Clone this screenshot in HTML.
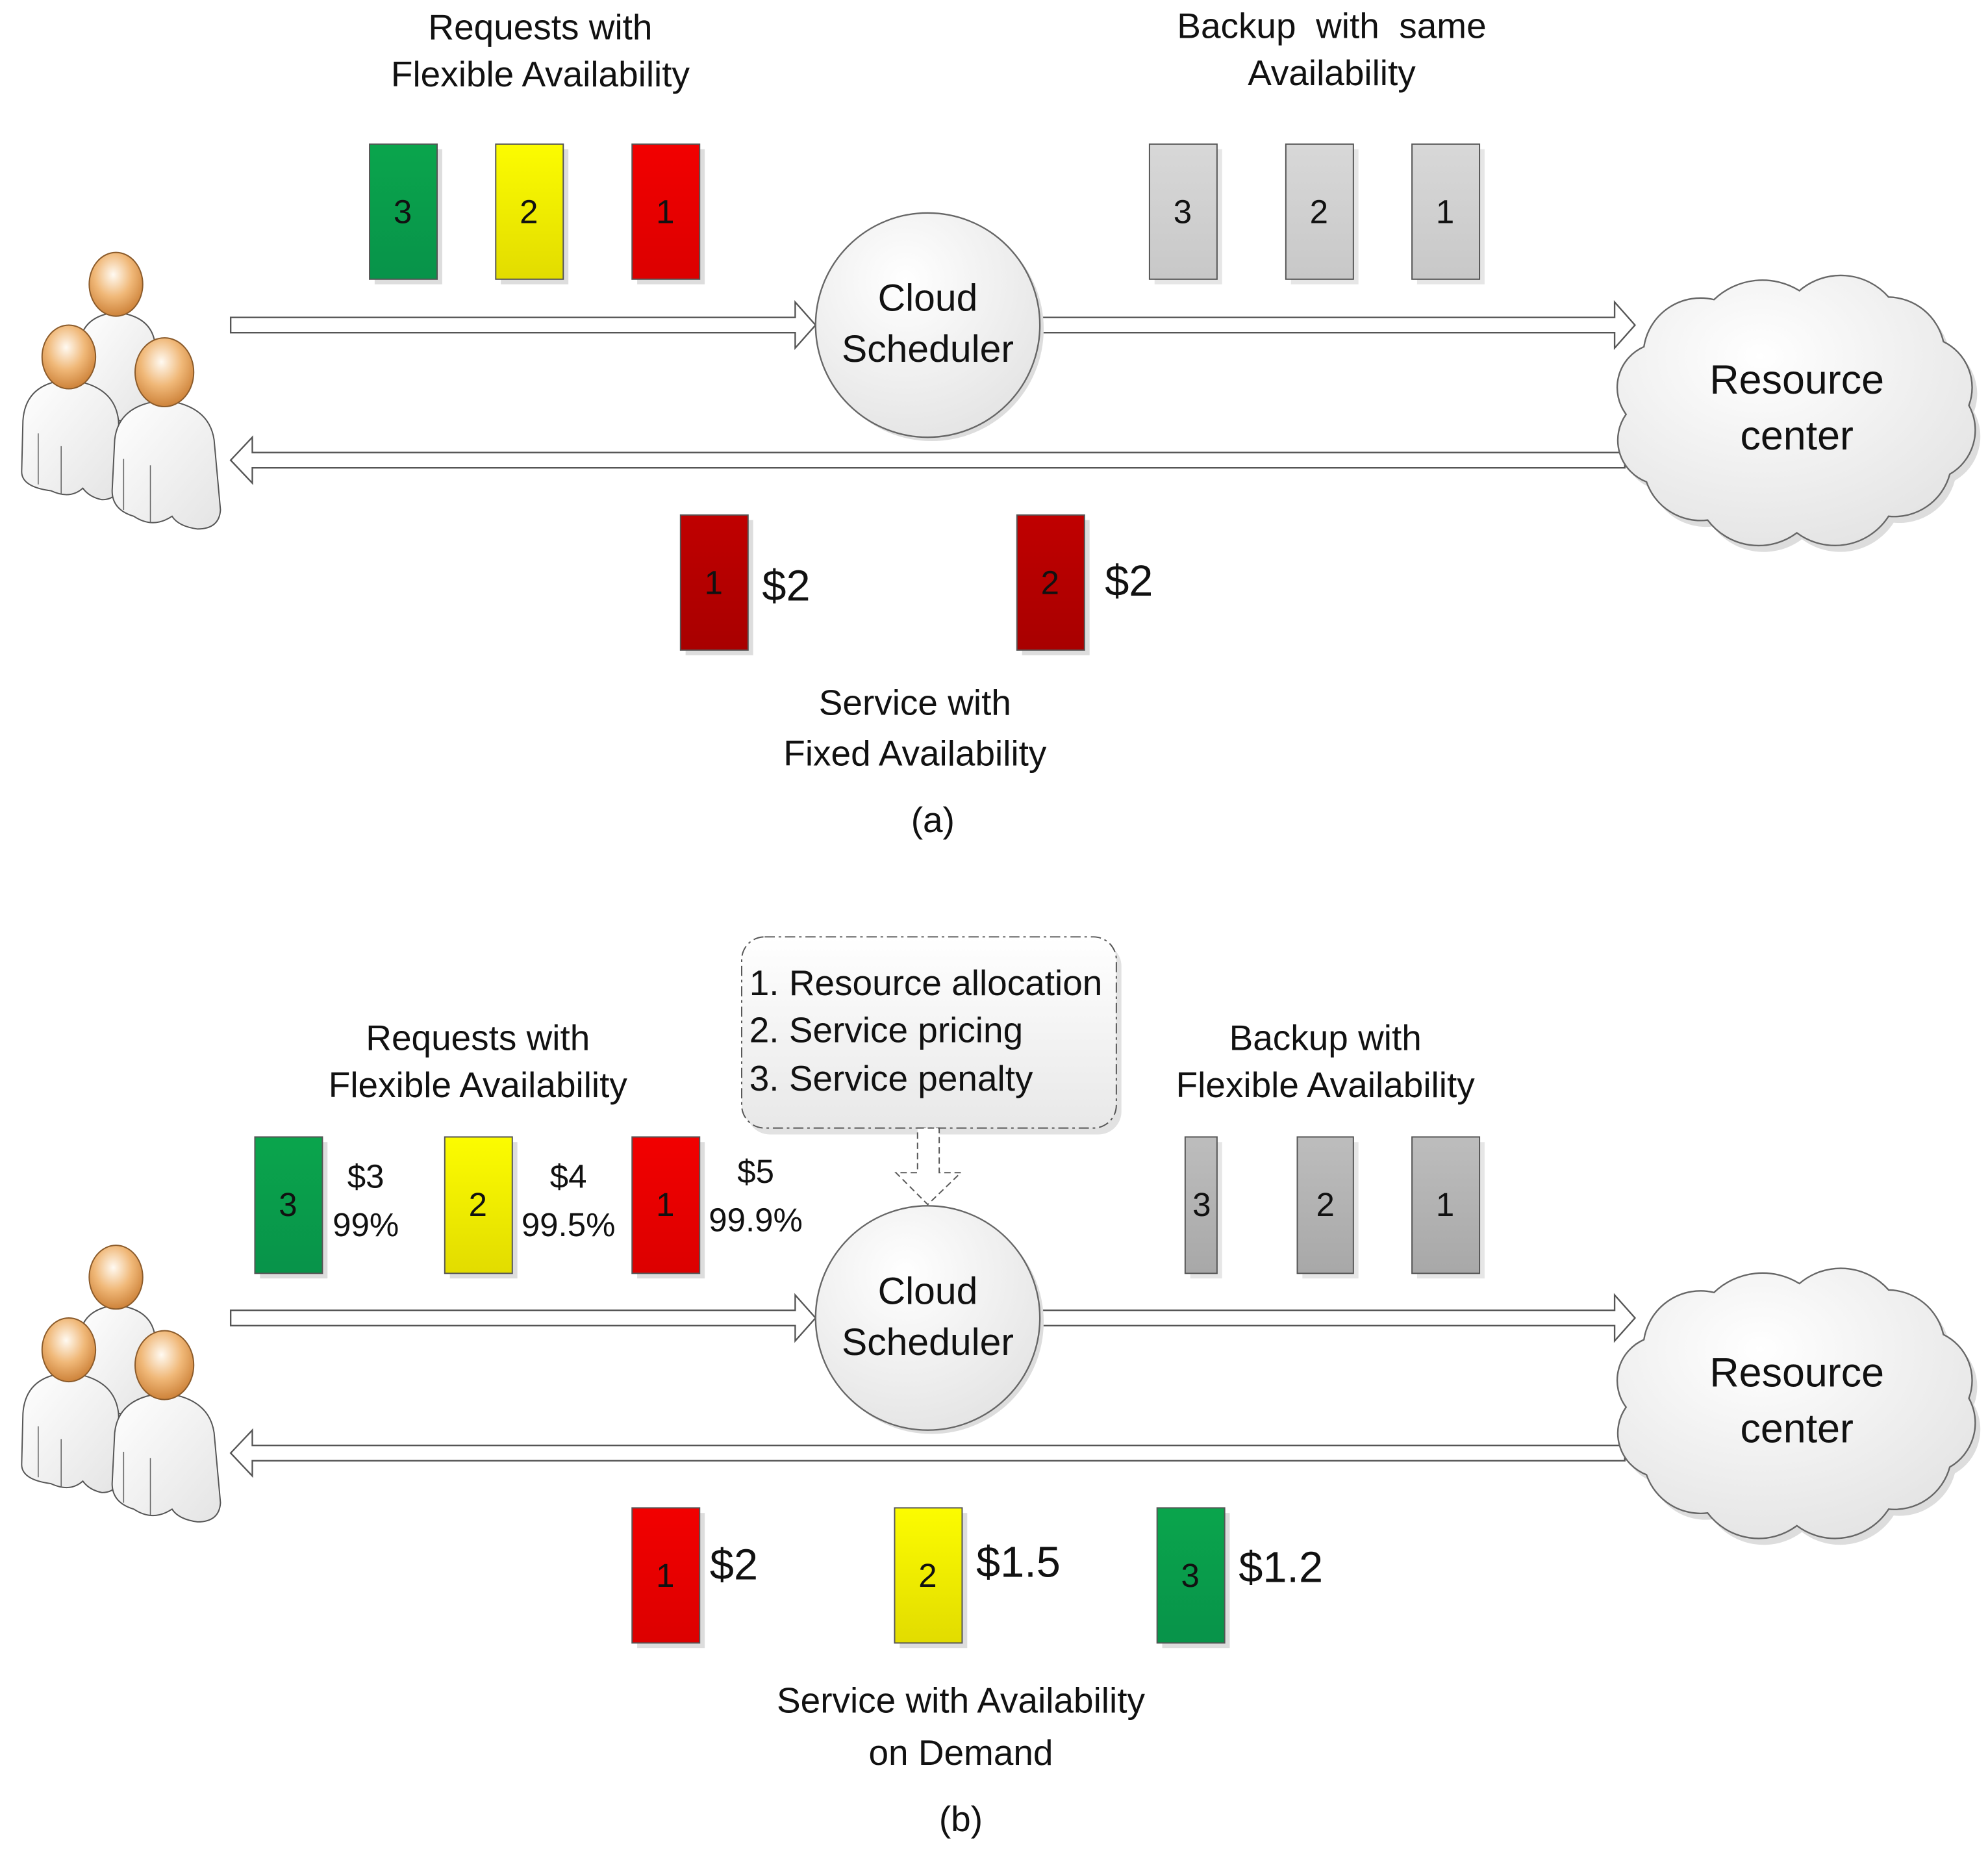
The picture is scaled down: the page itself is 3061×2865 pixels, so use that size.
<!DOCTYPE html>
<html><head><meta charset="utf-8"><style>
html,body{margin:0;padding:0;background:#fff;}
svg{display:block;}
text{font-family:"Liberation Sans",sans-serif;fill:#111;}
</style></head><body>
<svg width="3061" height="2865" viewBox="0 0 1560 1460" xmlns="http://www.w3.org/2000/svg">
<defs>
<radialGradient id="head" cx="0.45" cy="0.35" r="0.7">
<stop offset="0" stop-color="#fffaf2"/><stop offset="0.5" stop-color="#f0b878"/><stop offset="1" stop-color="#c87a30"/>
</radialGradient>
<linearGradient id="body" x1="0" y1="0" x2="1" y2="1"><stop offset="0" stop-color="#ffffff"/><stop offset="1" stop-color="#e4e4e4"/></linearGradient>
<radialGradient id="circ" cx="0.4" cy="0.3" r="0.8"><stop offset="0" stop-color="#ffffff"/><stop offset="1" stop-color="#e2e2e2"/></radialGradient>
<linearGradient id="grn" x1="0" y1="0" x2="0" y2="1"><stop offset="0" stop-color="#0aa54c"/><stop offset="1" stop-color="#08934a"/></linearGradient>
<linearGradient id="yel" x1="0" y1="0" x2="0" y2="1"><stop offset="0" stop-color="#fcfc00"/><stop offset="1" stop-color="#e2dc00"/></linearGradient>
<linearGradient id="red" x1="0" y1="0" x2="0" y2="1"><stop offset="0" stop-color="#f20000"/><stop offset="1" stop-color="#dc0000"/></linearGradient>
<linearGradient id="drd" x1="0" y1="0" x2="0" y2="1"><stop offset="0" stop-color="#c00000"/><stop offset="1" stop-color="#a80000"/></linearGradient>
<linearGradient id="gry" x1="0" y1="0" x2="0" y2="1"><stop offset="0" stop-color="#d8d8d8"/><stop offset="1" stop-color="#c8c8c8"/></linearGradient>
<linearGradient id="gry2" x1="0" y1="0" x2="0" y2="1"><stop offset="0" stop-color="#bdbdbd"/><stop offset="1" stop-color="#a8a8a8"/></linearGradient>
<linearGradient id="boxg" x1="0" y1="0" x2="0" y2="1"><stop offset="0" stop-color="#ffffff"/><stop offset="1" stop-color="#e8e8e8"/></linearGradient>
<g id="people">
 <path d="M62,330 L62,275 Q62,248 91,245 Q122,248 122,275 L122,330 Z" fill="url(#body)" stroke="#555" stroke-width="1"/>
 <ellipse cx="91" cy="223" rx="21" ry="25" fill="url(#head)" stroke="#8a5a2a" stroke-width="1"/>
 <path d="M17,370 L18,330 Q20,300 54,298 Q90,302 93,330 L95,375 Q94,392 80,392 Q70,390 65,383 Q55,392 40,385 Q17,382 17,370 Z" fill="url(#body)" stroke="#555" stroke-width="1"/>
 <line x1="30" y1="340" x2="30" y2="380" stroke="#666" stroke-width="0.8"/><line x1="48" y1="350" x2="48" y2="388" stroke="#666" stroke-width="0.8"/>
 <ellipse cx="54" cy="280" rx="21" ry="25" fill="url(#head)" stroke="#8a5a2a" stroke-width="1"/>
 <path d="M88,385 L90,345 Q93,317 129,314 Q164,318 168,345 L173,400 Q172,415 155,415 Q140,413 135,405 Q120,415 105,405 Q88,400 88,385 Z" fill="url(#body)" stroke="#555" stroke-width="1"/>
 <line x1="97" y1="360" x2="97" y2="400" stroke="#666" stroke-width="0.8"/><line x1="118" y1="365" x2="118" y2="410" stroke="#666" stroke-width="0.8"/>
 <ellipse cx="129" cy="292" rx="23" ry="27" fill="url(#head)" stroke="#8a5a2a" stroke-width="1"/>
</g>
<path id="cloud" d="M1290,272 A45,45 0 0 1 1345,235 A55,55 0 0 1 1412,228 A50,50 0 0 1 1482,233 A45,45 0 0 1 1525,268 A40,40 0 0 1 1545,318 A40,40 0 0 1 1530,372 A45,45 0 0 1 1482,405 A50,50 0 0 1 1410,418 A50,50 0 0 1 1340,408 A45,45 0 0 1 1292,378 A35,35 0 0 1 1276,325 A35,35 0 0 1 1290,272 Z"/>
<g id="arrows">
 <polygon points="181,249 624,249 624,237 640,255 624,273 624,261 181,261" fill="#fff" stroke="#555" stroke-width="1.2"/>
 <polygon points="817,249 1267,249 1267,237 1283,255 1267,273 1267,261 817,261" fill="#fff" stroke="#555" stroke-width="1.2"/>
 <polygon points="1275,355 198,355 198,343 181,361 198,379 198,367 1275,367" fill="#fff" stroke="#555" stroke-width="1.2"/>
</g>
<g id="sched">
 <circle cx="731" cy="258" r="88" fill="#ddd"/>
 <circle cx="728" cy="255" r="88" fill="url(#circ)" stroke="#666" stroke-width="1.2"/>
 <text x="728" y="234" font-size="30" text-anchor="middle" dominant-baseline="central">Cloud</text>
 <text x="728" y="274" font-size="30" text-anchor="middle" dominant-baseline="central">Scheduler</text>
 <use href="#cloud" transform="translate(4,5)" fill="#ddd"/>
 <use href="#cloud" fill="url(#circ)" stroke="#666" stroke-width="1.2"/>
 <text x="1410" y="298" font-size="32" text-anchor="middle" dominant-baseline="central">Resource</text>
 <text x="1410" y="342" font-size="32" text-anchor="middle" dominant-baseline="central">center</text>
</g>
</defs>

<!-- (a) -->
<use href="#people"/>
<use href="#arrows"/>
<use href="#sched"/>
<text x="424" y="21" font-size="28" text-anchor="middle" dominant-baseline="central">Requests with</text>
<text x="424" y="58" font-size="28" text-anchor="middle" dominant-baseline="central">Flexible Availability</text>
<text x="1045" y="20" font-size="28" text-anchor="middle" dominant-baseline="central" xml:space="preserve">Backup  with  same</text>
<text x="1045" y="57" font-size="28" text-anchor="middle" dominant-baseline="central">Availability</text>
<g stroke="#555" stroke-width="1">
<rect x="294" y="117" width="53" height="106" fill="#ddd" stroke="none"/>
<rect x="290" y="113" width="53" height="106" fill="url(#grn)"/>
<rect x="393" y="117" width="53" height="106" fill="#ddd" stroke="none"/>
<rect x="389" y="113" width="53" height="106" fill="url(#yel)"/>
<rect x="500" y="117" width="53" height="106" fill="#ddd" stroke="none"/>
<rect x="496" y="113" width="53" height="106" fill="url(#red)"/>
<rect x="906" y="117" width="53" height="106" fill="#e6e6e6" stroke="none"/>
<rect x="902" y="113" width="53" height="106" fill="url(#gry)"/>
<rect x="1013" y="117" width="53" height="106" fill="#e6e6e6" stroke="none"/>
<rect x="1009" y="113" width="53" height="106" fill="url(#gry)"/>
<rect x="1112" y="117" width="53" height="106" fill="#e6e6e6" stroke="none"/>
<rect x="1108" y="113" width="53" height="106" fill="url(#gry)"/>
<rect x="538" y="408" width="53" height="106" fill="#ddd" stroke="none"/>
<rect x="534" y="404" width="53" height="106" fill="url(#drd)"/>
<rect x="802" y="408" width="53" height="106" fill="#ddd" stroke="none"/>
<rect x="798" y="404" width="53" height="106" fill="url(#drd)"/>
</g>
<g font-size="26" text-anchor="middle" dominant-baseline="central">
<text x="316" y="166">3</text><text x="415" y="166">2</text><text x="522" y="166">1</text>
<text x="928" y="166">3</text><text x="1035" y="166">2</text><text x="1134" y="166">1</text>
<text x="560" y="457">1</text><text x="824" y="457">2</text>
</g>
<text x="598" y="460" font-size="34" dominant-baseline="central">$2</text>
<text x="867" y="456" font-size="34" dominant-baseline="central">$2</text>
<text x="718" y="551" font-size="28" text-anchor="middle" dominant-baseline="central">Service with</text>
<text x="718" y="591" font-size="28" text-anchor="middle" dominant-baseline="central">Fixed Availability</text>
<text x="732" y="643" font-size="28" text-anchor="middle" dominant-baseline="central">(a)</text>

<!-- (b) -->
<g transform="translate(0,779)">
<use href="#people"/>
<use href="#arrows"/>
<use href="#sched"/>
</g>
<rect x="586" y="740" width="294" height="150" rx="18" fill="#e2e2e2"/>
<rect x="582" y="735" width="294" height="150" rx="18" fill="url(#boxg)" stroke="#555" stroke-width="1" stroke-dasharray="8,3,2,3"/>
<g font-size="28" dominant-baseline="central">
<text x="588" y="771">1. Resource allocation</text>
<text x="588" y="808">2. Service pricing</text>
<text x="588" y="846">3. Service penalty</text>
</g>
<polygon points="720,885 737,885 737,920 754,920 728,945 703,920 720,920" fill="#fff" stroke="#555" stroke-width="1" stroke-dasharray="5,3"/>
<text x="375" y="814" font-size="28" text-anchor="middle" dominant-baseline="central">Requests with</text>
<text x="375" y="851" font-size="28" text-anchor="middle" dominant-baseline="central">Flexible Availability</text>
<text x="1040" y="814" font-size="28" text-anchor="middle" dominant-baseline="central">Backup with</text>
<text x="1040" y="851" font-size="28" text-anchor="middle" dominant-baseline="central">Flexible Availability</text>
<g stroke="#555" stroke-width="1">
<rect x="204" y="896" width="53" height="107" fill="#ddd" stroke="none"/>
<rect x="200" y="892" width="53" height="107" fill="url(#grn)"/>
<rect x="353" y="896" width="53" height="107" fill="#ddd" stroke="none"/>
<rect x="349" y="892" width="53" height="107" fill="url(#yel)"/>
<rect x="500" y="896" width="53" height="107" fill="#ddd" stroke="none"/>
<rect x="496" y="892" width="53" height="107" fill="url(#red)"/>
<rect x="934" y="896" width="25" height="107" fill="#e6e6e6" stroke="none"/>
<rect x="930" y="892" width="25" height="107" fill="url(#gry2)"/>
<rect x="1022" y="896" width="44" height="107" fill="#e6e6e6" stroke="none"/>
<rect x="1018" y="892" width="44" height="107" fill="url(#gry2)"/>
<rect x="1112" y="896" width="53" height="107" fill="#e6e6e6" stroke="none"/>
<rect x="1108" y="892" width="53" height="107" fill="url(#gry2)"/>
<rect x="500" y="1187" width="53" height="106" fill="#ddd" stroke="none"/>
<rect x="496" y="1183" width="53" height="106" fill="url(#red)"/>
<rect x="706" y="1187" width="53" height="106" fill="#ddd" stroke="none"/>
<rect x="702" y="1183" width="53" height="106" fill="url(#yel)"/>
<rect x="912" y="1187" width="53" height="106" fill="#ddd" stroke="none"/>
<rect x="908" y="1183" width="53" height="106" fill="url(#grn)"/>
</g>
<g font-size="26" text-anchor="middle" dominant-baseline="central">
<text x="226" y="945">3</text><text x="375" y="945">2</text><text x="522" y="945">1</text>
<text x="943" y="945">3</text><text x="1040" y="945">2</text><text x="1134" y="945">1</text>
<text x="522" y="1236">1</text><text x="728" y="1236">2</text><text x="934" y="1236">3</text>
<text x="287" y="923">$3</text><text x="287" y="961">99%</text>
<text x="446" y="923">$4</text><text x="446" y="961">99.5%</text>
<text x="593" y="919">$5</text><text x="593" y="957">99.9%</text>
</g>
<text x="557" y="1228" font-size="34" dominant-baseline="central">$2</text>
<text x="766" y="1226" font-size="34" dominant-baseline="central">$1.5</text>
<text x="972" y="1230" font-size="34" dominant-baseline="central">$1.2</text>
<text x="754" y="1334" font-size="28" text-anchor="middle" dominant-baseline="central">Service with Availability</text>
<text x="754" y="1375" font-size="28" text-anchor="middle" dominant-baseline="central">on Demand</text>
<text x="754" y="1427" font-size="28" text-anchor="middle" dominant-baseline="central">(b)</text>
</svg>
</body></html>
